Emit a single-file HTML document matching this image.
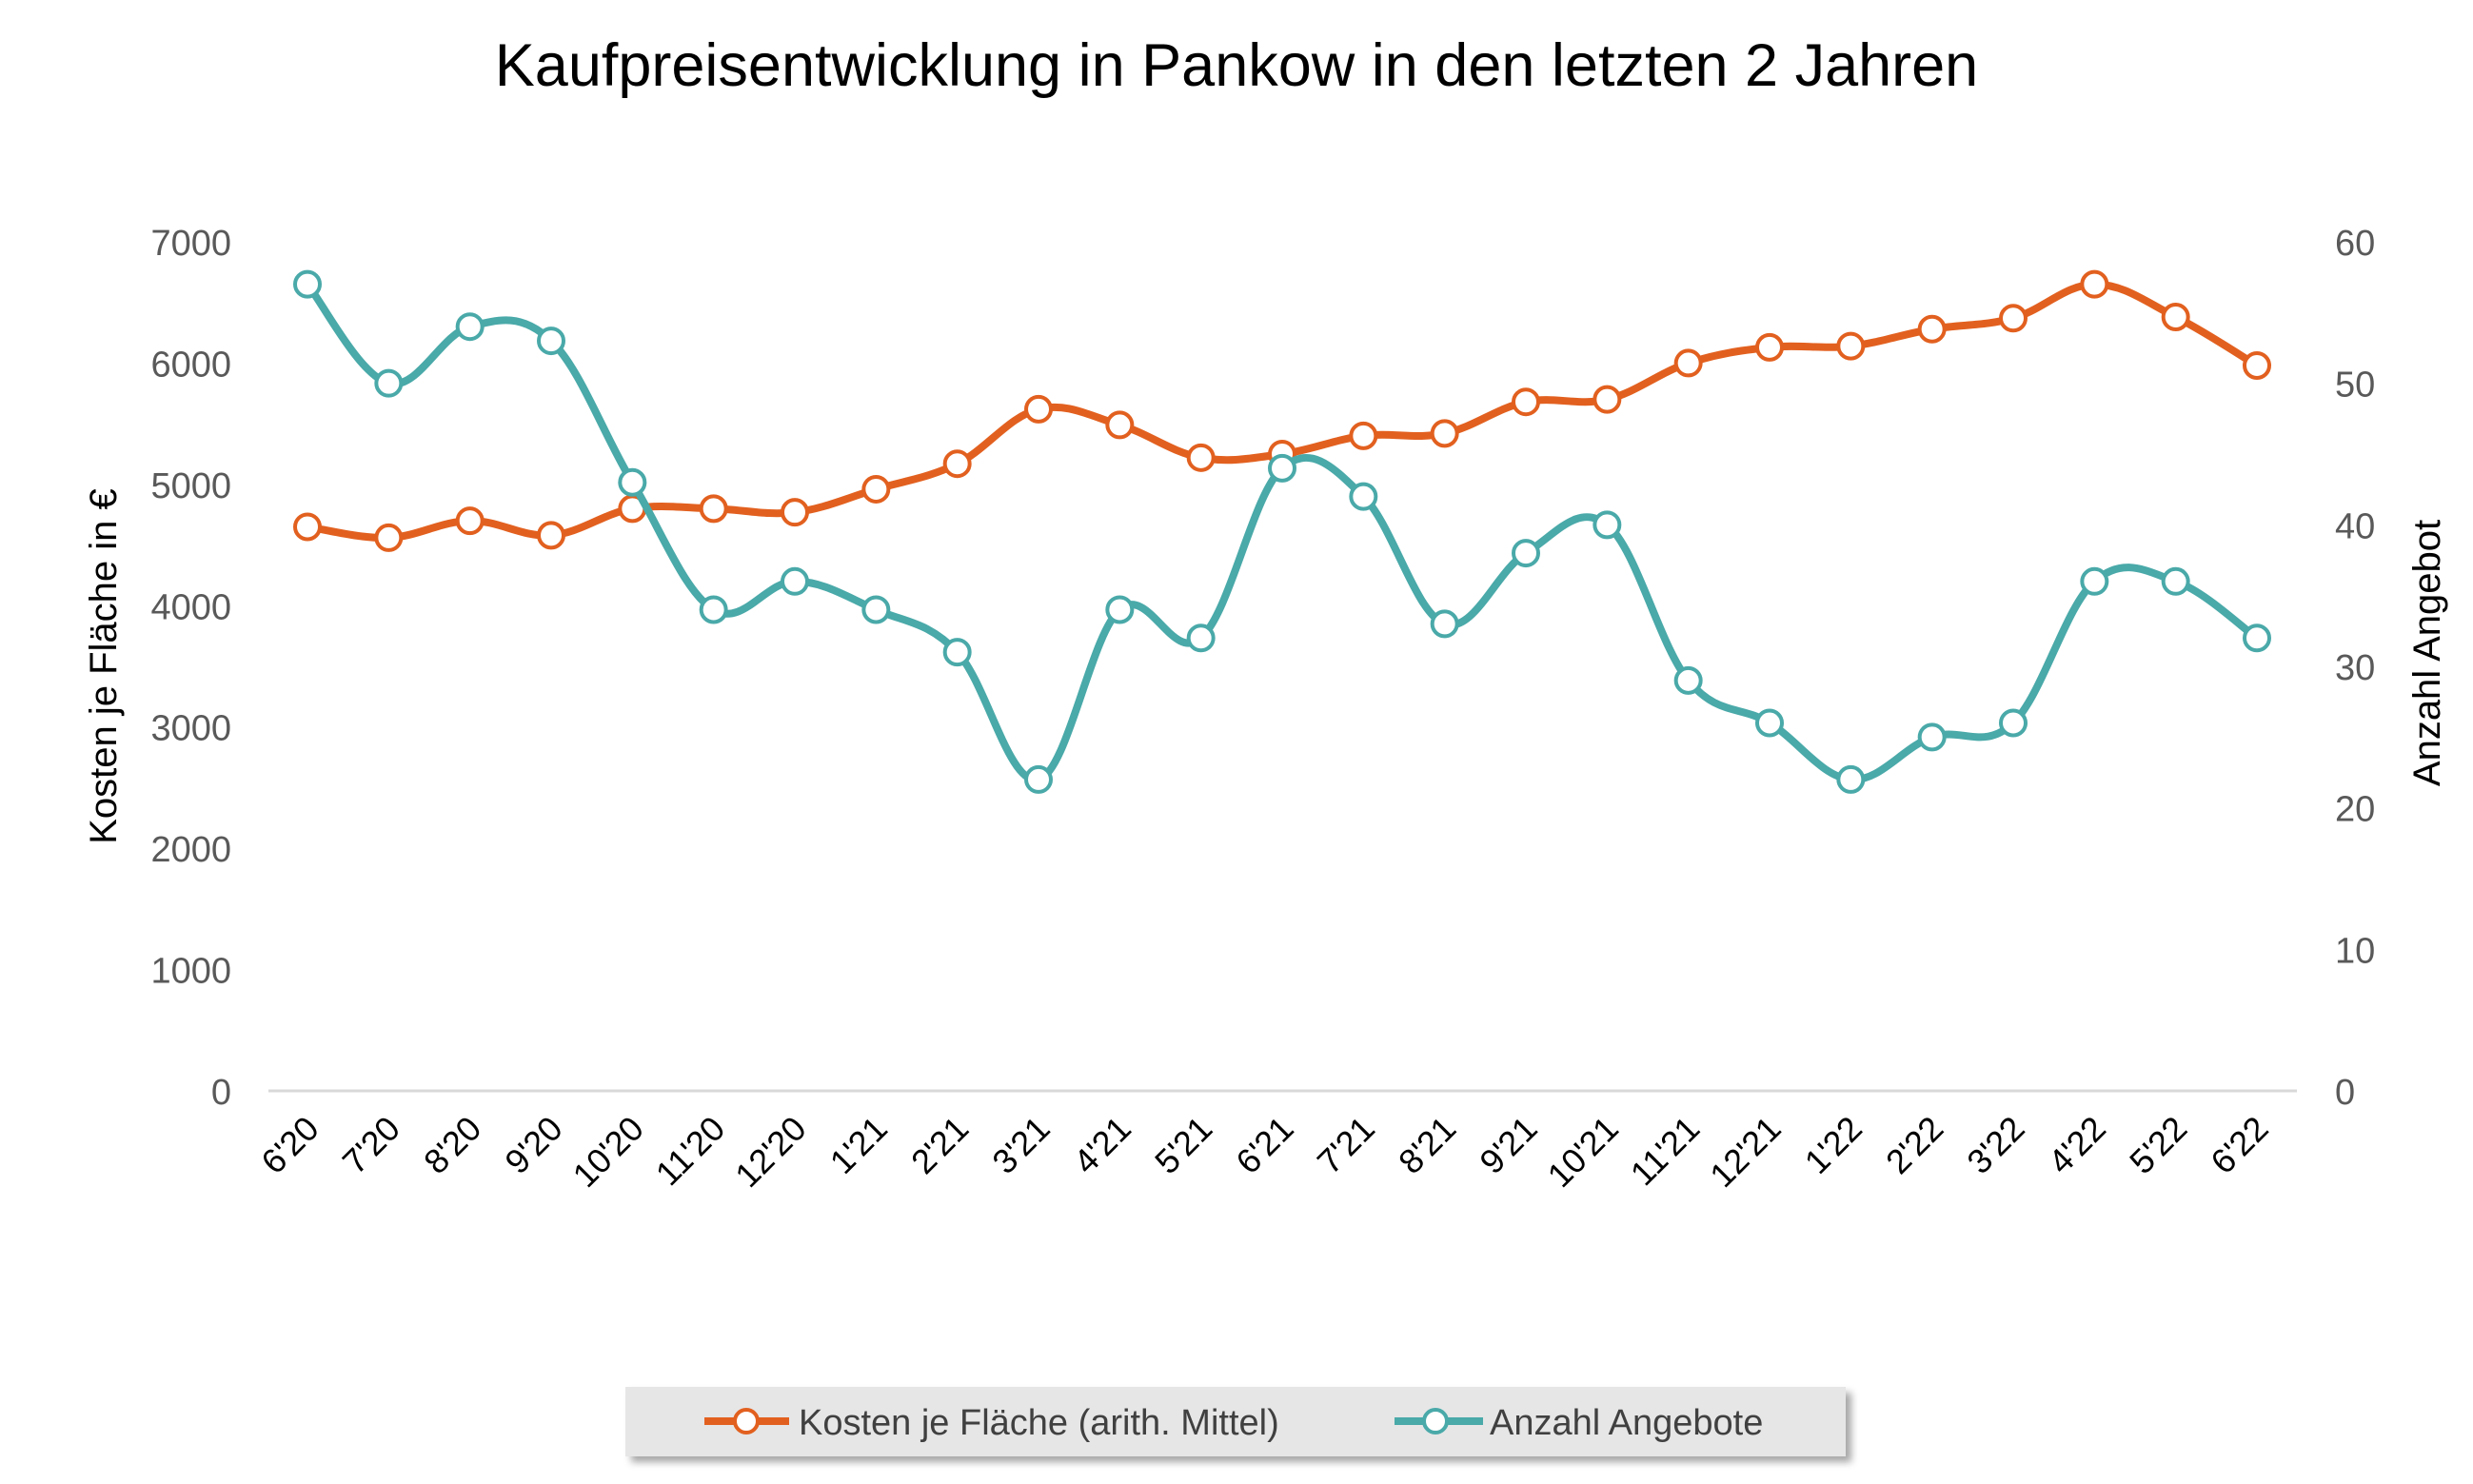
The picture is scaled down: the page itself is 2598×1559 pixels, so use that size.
<!DOCTYPE html>
<html><head><meta charset="utf-8"><style>
html,body{margin:0;padding:0;background:#fff;}
svg{display:block;font-family:"Liberation Sans",sans-serif;}
</style></head><body>
<svg id="chart" width="2598" height="1559" viewBox="0 0 2598 1559">
<defs><filter id="sh" x="-5%" y="-20%" width="115%" height="160%"><feDropShadow dx="6" dy="6" stdDeviation="4" flood-color="#000" flood-opacity="0.35"/></filter></defs>
<text x="1299" y="90" text-anchor="middle" font-size="63" fill="#000">Kaufpreisentwicklung in Pankow in den letzten 2 Jahren</text>
<g id="axes"></g>
<g id="series"></g>
<g>
<rect x="657" y="1457" width="1282" height="73" fill="#e6e6e6" filter="url(#sh)"/>
<g>
<line x1="740" y1="1493" x2="829" y2="1493" stroke="#e2601f" stroke-width="8"/>
<circle cx="784" cy="1493" r="12" fill="#fff" stroke="#e2601f" stroke-width="4"/>
<text x="839" y="1507" font-size="38" fill="#404040">Kosten je Fläche (arith. Mittel)</text></g>
<g>
<line x1="1465" y1="1493" x2="1558" y2="1493" stroke="#4aa9a9" stroke-width="8"/>
<circle cx="1508" cy="1493" r="12" fill="#fff" stroke="#4aa9a9" stroke-width="4"/>
<text x="1565" y="1507" font-size="38" fill="#404040">Anzahl Angebote</text></g>
</g>
</svg>
<script>
const categories=["6'20","7'20","8'20","9'20","10'20","11'20","12'20","1'21","2'21","3'21","4'21","5'21","6'21","7'21","8'21","9'21","10'21","11'21","12'21","1'22","2'22","3'22","4'22","5'22","6'22"];
const kosten=[4650,4560,4700,4580,4800,4800,4770,4960,5170,5620,5490,5220,5250,5400,5420,5680,5700,6000,6130,6140,6280,6370,6650,6380,5980];
const angebote=[57,50,54,53,43,34,36,34,31,22,34,32,44,42,33,38,40,29,26,22,25,26,36,36,32];
const leftTicks=[0,1000,2000,3000,4000,5000,6000,7000];
const rightTicks=[0,10,20,30,40,50,60];
const NS="http://www.w3.org/2000/svg";
const X0=323,X1=2371,Y0=1146,Y1=254;
function x(i){return X0+(X1-X0)*i/(categories.length-1);}
function yL(v){return Y0-(Y0-Y1)*v/7000;}
function yR(v){return Y0-(Y0-Y1)*v/60;}
function mk(tag,attrs,parent){const e=document.createElementNS(NS,tag);for(const k in attrs)e.setAttribute(k,attrs[k]);parent.appendChild(e);return e;}
const axes=document.getElementById('axes'),ser=document.getElementById('series');
const base=mk('line',{x1:282,x2:2413,y1:Y0,y2:Y0,stroke:'#d9d9d9','stroke-width':3},axes);


leftTicks.forEach(v=>{const t=mk('text',{x:243,y:yL(v)+14,'text-anchor':'end','font-size':38,fill:'#595959'},axes);t.textContent=v;

});
rightTicks.forEach(v=>{const t=mk('text',{x:2453,y:yR(v)+14,'font-size':38,fill:'#595959'},axes);t.textContent=v;

});
categories.forEach((c,i)=>{const t=mk('text',{x:0,y:0,'text-anchor':'end','font-size':36,fill:'#000',transform:`translate(${x(i)+14},${Y0+42}) rotate(-45)`},axes);t.textContent=c;

});
const lt=mk('text',{x:0,y:0,'text-anchor':'middle','font-size':40,fill:'#000',transform:`translate(122,700) rotate(-90)`},axes);lt.textContent='Kosten je Fläche in €';


const rt=mk('text',{x:0,y:0,'text-anchor':'middle','font-size':40,fill:'#000',transform:`translate(2563,686) rotate(-90)`},axes);rt.textContent='Anzahl Angebot';


function smooth(pts){let d=`M${pts[0][0]},${pts[0][1]}`;for(let i=0;i<pts.length-1;i++){const p0=pts[Math.max(0,i-1)],p1=pts[i],p2=pts[i+1],p3=pts[Math.min(pts.length-1,i+2)];const t=0.18*3;const c1=[p1[0]+(p2[0]-p0[0])*t/3,p1[1]+(p2[1]-p0[1])*t/3];const c2=[p2[0]-(p3[0]-p1[0])*t/3,p2[1]-(p3[1]-p1[1])*t/3];d+=` C${c1[0]},${c1[1]} ${c2[0]},${c2[1]} ${p2[0]},${p2[1]}`;}return d;}
function draw(vals,yf,color,name){const pts=vals.map((v,i)=>[x(i),yf(v)]);
const g=mk('g',{},ser);
const p=mk('path',{d:smooth(pts),fill:'none',stroke:color,'stroke-width':8,'stroke-linejoin':'round'},g);


pts.forEach(q=>{const c=mk('circle',{cx:q[0],cy:q[1],r:13,fill:'#fff',stroke:color,'stroke-width':4},g);

});}
draw(kosten,yL,'#e2601f','kosten');
draw(angebote,yR,'#4aa9a9','angebote');
</script>
</body></html>
